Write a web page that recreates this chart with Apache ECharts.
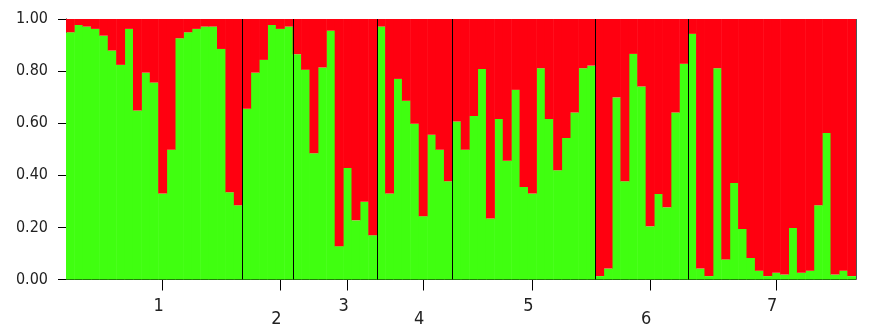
<!DOCTYPE html>
<html>
<head>
<meta charset="utf-8">
<script src="https://cdn.jsdelivr.net/npm/echarts@6/dist/echarts.min.js"></script>
<style>
html,body{margin:0;padding:0;background:#fff;}
#chart{width:878px;height:328px;}
</style>
</head>
<body>
<div id="chart"></div>
<script>
// Population labels and number of individuals per population
const groupLabels = ['1','2','3','4','5','6','7'];
const groupSizes = [21, 6, 10, 9, 17, 11, 20];
// index of the bar under which each population label sits
const labelBar = [11, 25, 33, 42, 55, 69, 84];
const yTicks = [0, 0.2, 0.4, 0.6, 0.8, 1.0];

// Membership coefficient of cluster 1 (green); cluster 2 (red) is the remainder
const pop1 = [0.949,0.977,0.971,0.962,0.936,0.879,0.824,0.962,0.649,0.794,0.756,0.330,0.498,0.926,0.949,0.962,0.971,0.971,0.885,0.335,0.285];
const pop2 = [0.655,0.794,0.843,0.977,0.962,0.971];
const pop3 = [0.865,0.805,0.485,0.814,0.955,0.128,0.428,0.227,0.298,0.170];
const pop4 = [0.971,0.330,0.770,0.686,0.598,0.243,0.556,0.498,0.377];
const pop5 = [0.607,0.498,0.628,0.808,0.234,0.616,0.456,0.728,0.355,0.330,0.811,0.616,0.419,0.543,0.641,0.811,0.821];
const pop6 = [0.013,0.042,0.699,0.377,0.866,0.741,0.204,0.328,0.277,0.641,0.828];
const pop7 = [0.943,0.042,0.013,0.811,0.077,0.370,0.194,0.083,0.034,0.013,0.026,0.019,0.198,0.026,0.034,0.285,0.562,0.019,0.034,0.013];

const green = [].concat(pop1, pop2, pop3, pop4, pop5, pop6, pop7);
const red = green.map(v => +(1 - v).toFixed(3));
const categories = green.map((_, i) => String(i + 1));
const nBars = green.length;

const boundaries = [];
let acc = 0;
groupSizes.forEach((s, i) => { acc += s; if (i < groupSizes.length - 1) boundaries.push(acc); });

const labelMap = {};
labelBar.forEach((b, i) => { labelMap[b] = (i % 2 === 1 ? '\n' : '') + groupLabels[i]; });

const chart = echarts.init(document.getElementById('chart'), null, {renderer: 'canvas'});
const fontFam = '"DejaVu Sans Condensed", "DejaVu Sans", sans-serif';
const GREEN = '#40ff10', RED = '#ff0010';
chart.setOption({
  animation: false,
  backgroundColor: '#fff',
  grid: {left: 66, right: 22, top: 19, bottom: 47, containLabel: false},
  xAxis: [{
    type: 'category',
    data: categories,
    boundaryGap: true,
    axisLine: {show: true, lineStyle: {color: '#000', width: 1}},
    axisTick: {show: true, alignWithLabel: true, length: 11, lineStyle: {color: '#000'},
      interval: (idx) => labelMap[idx] !== undefined},
    axisLabel: {
      interval: (idx) => labelMap[idx] !== undefined,
      formatter: (v, idx) => labelMap[idx] || '',
      fontFamily: fontFam, fontSize: 18, lineHeight: 13, color: '#222',
      margin: 20, padding: [0, 8, 0, 0]
    },
    splitLine: {show: false}
  }, {
    type: 'value', min: 0, max: nBars, show: false, position: 'bottom'
  }],
  yAxis: {
    type: 'value', min: 0, max: 1, interval: 0.2,
    axisLine: {show: true, lineStyle: {color: '#000', width: 1}},
    axisTick: {show: true, length: 8, lineStyle: {color: '#000'}},
    axisLabel: {formatter: v => v.toFixed(2), fontFamily: fontFam, fontSize: 16, color: '#222', margin: 18},
    splitLine: {show: false}
  },
  series: [{
    type: 'bar', stack: 'q', data: green, barWidth: '106%', barGap: '-100%',
    itemStyle: {color: GREEN}, silent: true
  }, {
    type: 'bar', stack: 'q', data: red, barWidth: '106%', barGap: '-100%',
    itemStyle: {color: RED}, silent: true
  }, {
    type: 'scatter', xAxisIndex: 1, data: [], silent: true, z: 5,
    markLine: {
      silent: true, symbol: 'none', label: {show: false},
      lineStyle: {color: '#000', width: 1, type: 'solid'},
      data: boundaries.map(b => ({xAxis: b}))
    }
  }, {
    type: 'scatter', xAxisIndex: 1, data: [], silent: true, z: 5,
    markLine: {
      silent: true, symbol: 'none', label: {show: false},
      lineStyle: {color: '#555', width: 1, type: 'solid'},
      data: [{xAxis: nBars}]
    }
  }]
});
</script>
</body>
</html>
